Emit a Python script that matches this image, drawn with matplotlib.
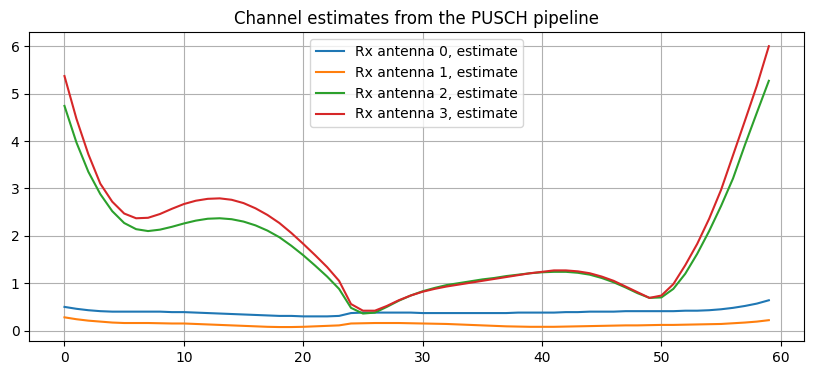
import numpy as np
import matplotlib
matplotlib.use("Agg")
import matplotlib.pyplot as plt

# subcarrier index
x = np.arange(60)

rx0 = [0.50, 0.46, 0.43, 0.41, 0.40, 0.40, 0.40, 0.40, 0.40, 0.39,
       0.39, 0.38, 0.37, 0.36, 0.35, 0.34, 0.33, 0.32, 0.31, 0.31,
       0.30, 0.30, 0.30, 0.31, 0.37, 0.38, 0.38, 0.38, 0.38, 0.38,
       0.37, 0.37, 0.37, 0.37, 0.37, 0.37, 0.37, 0.37, 0.38, 0.38,
       0.38, 0.38, 0.39, 0.39, 0.40, 0.40, 0.40, 0.41, 0.41, 0.41,
       0.41, 0.41, 0.42, 0.42, 0.43, 0.45, 0.48, 0.52, 0.57, 0.64]

rx1 = [0.28, 0.24, 0.21, 0.19, 0.17, 0.16, 0.16, 0.16, 0.155, 0.15,
       0.15, 0.14, 0.13, 0.12, 0.11, 0.10, 0.09, 0.08, 0.075, 0.075,
       0.08, 0.09, 0.10, 0.11, 0.15, 0.155, 0.16, 0.16, 0.16, 0.155,
       0.15, 0.145, 0.14, 0.13, 0.12, 0.11, 0.10, 0.09, 0.085, 0.08,
       0.08, 0.08, 0.085, 0.09, 0.095, 0.10, 0.105, 0.11, 0.11, 0.115,
       0.12, 0.12, 0.125, 0.13, 0.135, 0.14, 0.155, 0.17, 0.19, 0.22]

rx2 = [4.74, 3.97, 3.35, 2.88, 2.52, 2.27, 2.14, 2.10, 2.13, 2.19,
       2.26, 2.32, 2.36, 2.37, 2.35, 2.30, 2.22, 2.11, 1.97, 1.79,
       1.59, 1.37, 1.14, 0.88, 0.48, 0.36, 0.38, 0.50, 0.63, 0.74,
       0.83, 0.90, 0.96, 1.00, 1.04, 1.08, 1.11, 1.15, 1.18, 1.21,
       1.23, 1.24, 1.24, 1.22, 1.18, 1.11, 1.02, 0.91, 0.79, 0.69,
       0.70, 0.88, 1.20, 1.62, 2.10, 2.63, 3.21, 3.92, 4.60, 5.27]

rx3 = [5.37, 4.47, 3.72, 3.10, 2.72, 2.47, 2.37, 2.38, 2.46, 2.57,
       2.67, 2.74, 2.78, 2.79, 2.76, 2.69, 2.58, 2.44, 2.27, 2.06,
       1.83, 1.59, 1.34, 1.05, 0.56, 0.42, 0.42, 0.52, 0.64, 0.74,
       0.82, 0.88, 0.93, 0.97, 1.01, 1.05, 1.09, 1.13, 1.17, 1.21,
       1.24, 1.27, 1.27, 1.25, 1.21, 1.14, 1.05, 0.93, 0.81, 0.69,
       0.74, 0.98, 1.38, 1.83, 2.36, 2.97, 3.70, 4.43, 5.17, 6.00]

labels = ["Rx antenna 0, estimate", "Rx antenna 1, estimate",
          "Rx antenna 2, estimate", "Rx antenna 3, estimate"]

fig, ax = plt.subplots(figsize=(8.13, 3.74), dpi=100)
for y, lab in zip([rx0, rx1, rx2, rx3], labels):
    ax.plot(x, y, label=lab)

ax.set_title("Channel estimates from the PUSCH pipeline")
ax.grid()
ax.legend(loc="upper center")
fig.subplots_adjust(left=0.036, right=0.989, bottom=0.088, top=0.914)
fig.savefig("out.png", dpi=100)
